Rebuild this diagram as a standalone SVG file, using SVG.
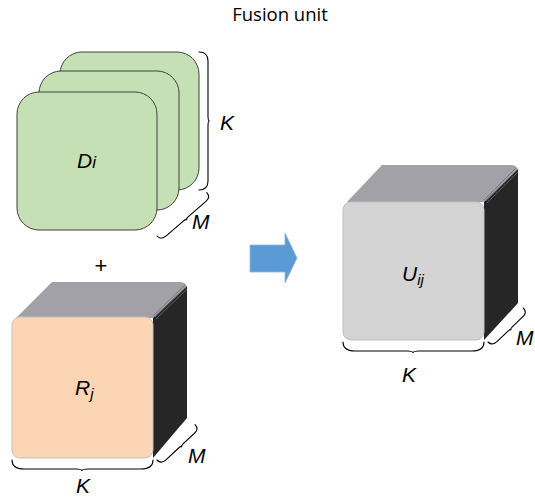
<svg xmlns="http://www.w3.org/2000/svg" width="535" height="497" viewBox="0 0 535 497">
  <defs>
    <style>
      .title { font-family: "Open Sans", "Liberation Sans", sans-serif; font-size: 18.5px; fill: #000; }
      .lbl { font-family: "Liberation Sans", Arial, sans-serif; font-style: italic; font-size: 21px; fill: #000; }
      .sub { font-size: 15px; }
      .sheet { fill: #c5e0b4; stroke: #404040; stroke-width: 1; }
      .top { fill: #a3a1a8; }
      .side { fill: #262626; }
      .layer { fill: none; stroke: #6e6d72; stroke-width: 0.8; }
      .brace { fill: none; stroke: #000; stroke-width: 1.1; stroke-linecap: round; }
    </style>
    <linearGradient id="topShade" x1="0" y1="0" x2="0" y2="1">
      <stop offset="0" stop-color="#aeacb3"/>
      <stop offset="1" stop-color="#9c9aa1"/>
    </linearGradient>
  </defs>

  <rect width="535" height="497" fill="#ffffff"/>

  <text class="title" x="280" y="21" text-anchor="middle">Fusion unit</text>

  <!-- stack of D sheets -->
  <g id="node-D">
    <rect class="sheet" x="60" y="52" width="139" height="138" rx="22"/>
    <rect class="sheet" x="39" y="71" width="140" height="139" rx="22"/>
    <rect class="sheet" x="17" y="92" width="140" height="138" rx="22"/>
    <text class="lbl" x="77" y="168">D<tspan font-size="17">i</tspan></text>
  </g>

  <text id="plus" x="101" y="273" text-anchor="middle" font-family="Liberation Sans, Arial, sans-serif" font-size="22">+</text>

  <!-- R cube -->
  <g id="node-R">
    <path class="top" d="M16,318 L52,282 L180,282 Q187,282 187,289 L153,318 Z" fill="url(#topShade)"/>
    <path class="side" d="M153,318 L187,286 L187,418 L153,458 Z"/>
    <path class="layer" d="M153,316 L185,285 M155,317 L186,287 M156,319 L187,289"/>
    <rect x="12" y="317" width="141" height="141" rx="8" fill="#fcd5b5" stroke="#bfbfbf" stroke-width="1"/>
    <text class="lbl" x="75" y="395">R<tspan class="sub" dy="4">j</tspan></text>
  </g>

  <!-- fusion arrow -->
  <g id="arrow">
    <path d="M250,245 L285,245 L285,233 L297,258 L285,283 L285,272 L250,272 Z" fill="#5b9bd5" stroke="#8fb4da" stroke-width="0.8"/>
  </g>

  <!-- U cube -->
  <g id="node-U">
    <path class="top" d="M347,202 L382,165 L511,165 Q518,165 518,172 L484,202 Z" fill="url(#topShade)"/>
    <path class="side" d="M484,202 L518,169 L518,303 L484,340 Z"/>
    <path class="layer" d="M484,200 L516,168 M486,201 L517,170 M487,203 L518,172"/>
    <rect x="343" y="202" width="141" height="138" rx="8" fill="#d4d4d4" stroke="#bfbfbf" stroke-width="1"/>
    <text class="lbl" x="402" y="281">U<tspan class="sub" dy="4">ij</tspan></text>
  </g>

  <!-- dimension braces -->
  <g id="connectors">
    <!-- K brace beside D stack -->
    <path class="brace" transform="translate(199,190) rotate(-90)" d="M0,0 C0,6 3,9 9,9 L64,9 C67,9 69,9.5 69,10.5 C69,9.5 71,9 74,9 L129,9 C135,9 138,6 138,0"/>
    <!-- M brace under D stack -->
    <path class="brace" transform="translate(157,236) rotate(-41)" d="M0,0 C0,4 2,6 7,6 L30,6 C32,6 33,6.5 33,7.5 C33,6.5 34,6 36,6 L60,6 C64,6 66,4 66,0"/>
    <!-- K brace under R -->
    <path class="brace" d="M12,460 C12,467 17,469 24,469 L76,469 C80,469 82,469.5 82,471 C82,469.5 84,469 88,469 L141,469 C148,469 153,467 153,460"/>
    <!-- M brace beside R -->
    <path class="brace" transform="translate(157,460) rotate(-43)" d="M0,0 C0,4 2,6 7,6 L24,6 C26,6 27,6.5 27,7.5 C27,6.5 28,6 30,6 L46,6 C50,6 52,4 52,0"/>
    <!-- K brace under U -->
    <path class="brace" d="M343,342 C343,349 348,351 355,351 L407,351 C411,351 413,351.5 413,353 C413,351.5 415,351 419,351 L472,351 C479,351 484,349 484,342"/>
    <!-- M brace beside U -->
    <path class="brace" transform="translate(488,342) rotate(-44)" d="M0,0 C0,4 2,6 7,6 L22,6 C24,6 25,6.5 25,7.5 C25,6.5 26,6 28,6 L43,6 C47,6 49,4 49,0"/>
  </g>

  <!-- dimension labels -->
  <text class="lbl" x="220" y="130">K</text>
  <text class="lbl" x="192" y="229">M</text>
  <text class="lbl" x="188" y="463">M</text>
  <text class="lbl" x="76" y="493">K</text>
  <text class="lbl" x="402" y="382">K</text>
  <text class="lbl" x="516" y="345">M</text>
</svg>
